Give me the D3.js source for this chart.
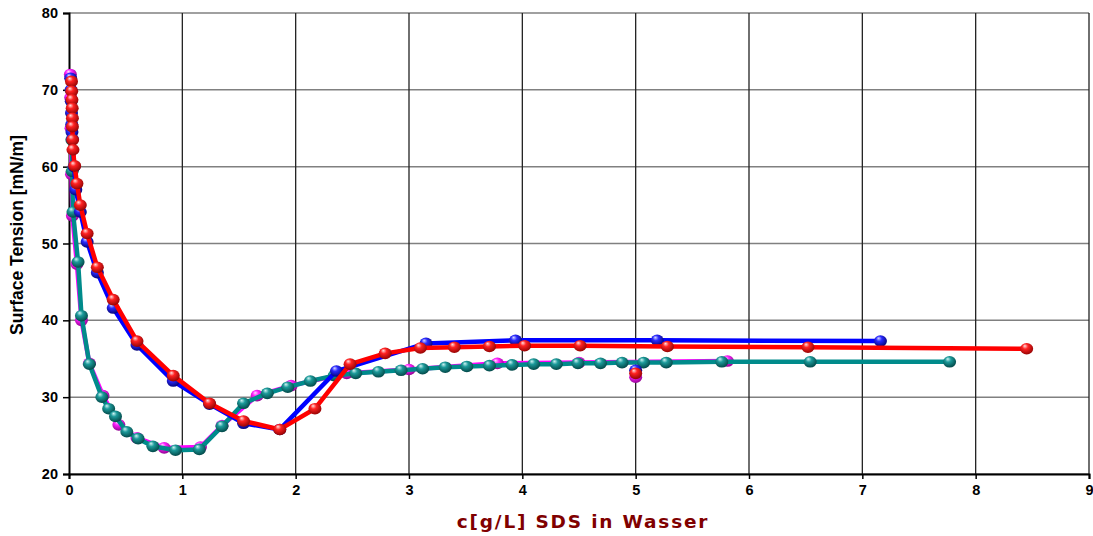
<!DOCTYPE html>
<html>
<head>
<meta charset="utf-8">
<script src="https://cdnjs.cloudflare.com/ajax/libs/d3/7.8.5/d3.min.js"></script>
<style>
  body { margin: 0; background: #fff; }
  svg { display: block; }
</style>
</head>
<body>
<div id="chart"></div>
<script>
// data: [c in g/L, surface tension in mN/m]
const blueSeries = [
    [0.015, 71.5], [0.018, 70.0], [0.020, 68.5], [0.022, 67.0], [0.024, 65.5],
    [0.026, 64.5], [0.030, 63.6], [0.045, 60.0], [0.06, 57.0], [0.10, 54.1],
    [0.16, 50.2], [0.25, 46.2], [0.39, 41.6], [0.60, 36.8], [0.92, 32.1],
    [1.24, 29.1], [1.54, 26.6], [1.86, 25.8], [2.36, 33.4], [3.15, 37.0],
    [3.94, 37.4], [5.19, 37.4], [7.16, 37.3]
];
const redSeries = [
    [0.022, 71.1], [0.024, 69.8], [0.026, 68.7], [0.028, 67.6], [0.030, 66.3],
    [0.030, 65.2], [0.032, 63.5], [0.035, 62.2], [0.05, 60.1], [0.07, 57.8],
    [0.10, 55.0], [0.16, 51.3], [0.25, 46.9], [0.39, 42.7], [0.60, 37.3],
    [0.92, 32.8], [1.24, 29.2], [1.54, 26.9], [1.86, 25.8], [2.17, 28.5],
    [2.48, 34.3], [2.79, 35.7], [3.10, 36.4], [3.40, 36.5], [3.71, 36.6],
    [4.02, 36.7], [4.51, 36.7], [5.28, 36.6], [6.52, 36.5], [8.45, 36.3]
];
const magentaSeries = [
    [0.012, 72.0], [0.015, 69.0], [0.018, 65.0], [0.022, 59.0], [0.03, 53.6],
    [0.07, 47.3], [0.11, 40.0], [0.18, 34.4], [0.30, 30.2], [0.44, 26.4],
    [0.60, 24.7], [0.84, 23.4], [1.16, 23.5], [1.35, 26.3], [1.66, 30.2],
    [1.96, 31.5], [2.45, 33.1], [3.00, 33.6], [3.78, 34.4], [4.50, 34.5],
    [5.81, 34.7]
];
const tealSeries = [
    [0.025, 63.5], [0.028, 59.4], [0.035, 54.1], [0.08, 47.6], [0.11, 40.6],
    [0.18, 34.3], [0.29, 30.0], [0.35, 28.5], [0.41, 27.5], [0.51, 25.5],
    [0.61, 24.6], [0.74, 23.6], [0.94, 23.1], [1.15, 23.2], [1.35, 26.2],
    [1.54, 29.2], [1.75, 30.5], [1.93, 31.3], [2.13, 32.1], [2.34, 32.8],
    [2.53, 33.1], [2.73, 33.3], [2.93, 33.5], [3.12, 33.7], [3.32, 33.9],
    [3.51, 34.0], [3.71, 34.1], [3.91, 34.2], [4.10, 34.3], [4.30, 34.3],
    [4.49, 34.4], [4.69, 34.4], [4.88, 34.5], [5.07, 34.5], [5.27, 34.5],
    [5.76, 34.6], [6.54, 34.6], [7.77, 34.6]
];
// single points at 5 g/L not joined by the lines
const bluePoints = [[5.0, 33.5]];
const redPoints = [[5.0, 33.1]];
const magentaPoints = [[5.0, 32.6]];

const xTicks = [0, 1, 2, 3, 4, 5, 6, 7, 8, 9];
const yTicks = [20, 30, 40, 50, 60, 70, 80];

const width = 1093, height = 536;
const margin = {left: 69, top: 13, right: 4, bottom: 62};

const svg = d3.select("#chart").append("svg")
    .attr("width", width)
    .attr("height", height);

const x = d3.scaleLinear().domain([0, 9]).range([margin.left, width - margin.right]);
const y = d3.scaleLinear().domain([20, 80]).range([height - margin.bottom, margin.top]);

// ball gradients
const defs = svg.append("defs");
const balls = {
    blue:    ["#d8d8ff", "#2a2aff", "#00006a"],
    red:     ["#ffe0e0", "#ff2222", "#8a0000"],
    magenta: ["#ffe0ff", "#ff22ff", "#880088"],
    teal:    ["#d0f4f4", "#1c9a9a", "#004040"]
};
Object.entries(balls).forEach(([name, c]) => {
    let g = defs.append("radialGradient")
        .attr("id", "ball-" + name)
        .attr("cx", "45%").attr("cy", "40%").attr("r", "65%")
        .attr("fx", "35%").attr("fy", "25%");
    g.append("stop").attr("offset", "0%").attr("stop-color", c[0]);
    g.append("stop").attr("offset", "35%").attr("stop-color", c[1]);
    g.append("stop").attr("offset", "100%").attr("stop-color", c[2]);
});

// grid
svg.append("g")
    .selectAll("line")
    .data(yTicks)
    .enter().append("line")
    .attr("x1", x(0)).attr("x2", x(9))
    .attr("y1", d => y(d)).attr("y2", d => y(d))
    .attr("stroke", "#808080")
    .attr("stroke-width", 1.5);

svg.append("g")
    .selectAll("line")
    .data(xTicks.slice(1))
    .enter().append("line")
    .attr("x1", d => x(d)).attr("x2", d => x(d))
    .attr("y1", y(20)).attr("y2", y(80))
    .attr("stroke", "#222")
    .attr("stroke-width", 1.3);

// axes
const xAxis = svg.append("g")
    .attr("transform", "translate(0," + y(20) + ")")
    .call(d3.axisBottom(x).tickValues(xTicks).tickSize(5).tickPadding(6).tickFormat(d3.format("d")));
const yAxis = svg.append("g")
    .attr("transform", "translate(" + x(0) + ",0)")
    .call(d3.axisLeft(y).tickValues(yTicks).tickSize(6).tickPadding(5).tickFormat(d3.format("d")));

[xAxis, yAxis].forEach(a => {
    a.select(".domain").attr("stroke", "#000").attr("stroke-width", 2);
    a.selectAll(".tick line").attr("stroke", "#000").attr("stroke-width", 1.5);
    a.selectAll(".tick text")
        .attr("fill", "#000")
        .style("font-family", "Liberation Sans, Arial, sans-serif")
        .style("font-weight", "bold")
        .style("font-size", "14.5px");
});

// axis titles
svg.append("text")
    .attr("transform", "translate(23,235) rotate(-90)")
    .attr("text-anchor", "middle")
    .style("font-family", "Liberation Sans, Arial, sans-serif")
    .style("font-weight", "bold")
    .style("font-size", "17.5px")
    .text("Surface Tension [mN/m]");

svg.append("text")
    .attr("x", 583)
    .attr("y", 528)
    .attr("text-anchor", "middle")
    .attr("fill", "#800000")
    .style("font-family", "DejaVu Sans, Verdana, sans-serif")
    .style("font-weight", "bold")
    .style("font-size", "18.5px")
    .style("letter-spacing", "1.8px")
    .text("c[g/L] SDS in Wasser");

// series
const line = d3.line().x(d => x(d[0])).y(d => y(d[1]));

function drawSeries(data, extra, color, ball) {
    let g = svg.append("g");
    g.append("path")
        .datum(data)
        .attr("d", line)
        .attr("fill", "none")
        .attr("stroke", color)
        .attr("stroke-width", 4.5)
        .attr("stroke-linejoin", "round");
    g.selectAll("ellipse")
        .data(data.concat(extra))
        .enter().append("ellipse")
        .attr("cx", d => x(d[0]))
        .attr("cy", d => y(d[1]))
        .attr("rx", 6.5)
        .attr("ry", 5.8)
        .attr("fill", "url(#ball-" + ball + ")");
}

drawSeries(magentaSeries, magentaPoints, "#ff00ff", "magenta");
drawSeries(tealSeries, [], "#008b8b", "teal");
drawSeries(blueSeries, bluePoints, "#0000ff", "blue");
drawSeries(redSeries, redPoints, "#ff0000", "red");
</script>
</body>
</html>
